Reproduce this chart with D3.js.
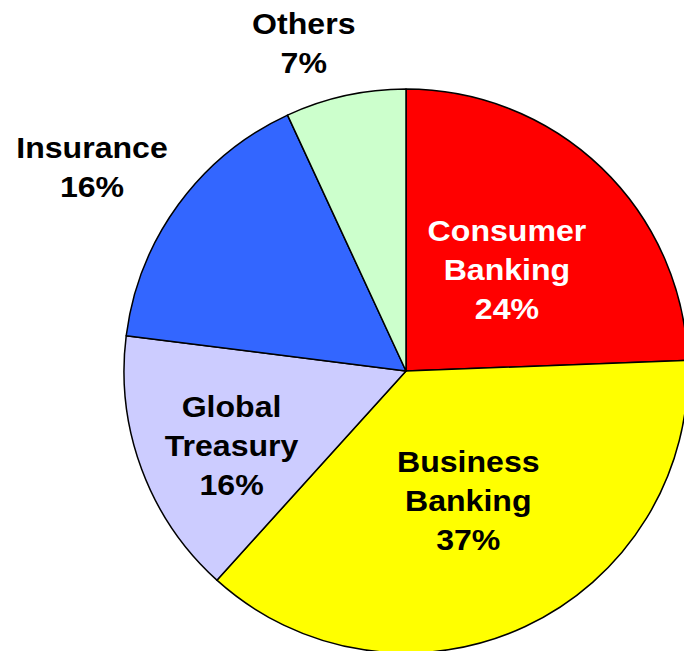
<!DOCTYPE html>
<html>
<head>
<meta charset="utf-8">
<script src="https://cdn.jsdelivr.net/npm/d3@7/dist/d3.min.js"></script>
<style>
  html, body { margin: 0; padding: 0; background: #fff; overflow: hidden; }
  svg { display: block; }
</style>
</head>
<body>
<script>
var segments = ["Consumer Banking", "Business Banking", "Global Treasury", "Insurance", "Others"];
var shares = [24.4, 37.3, 15.3, 16.1, 6.9];
var labelLines = [["Consumer", "Banking", "24%"], ["Business", "Banking", "37%"],
                  ["Global", "Treasury", "16%"], ["Insurance", "16%"], ["Others", "7%"]];

// look
var fills = ["#ff0000", "#ffff00", "#ccccff", "#3366ff", "#ccffcc"];
var textColors = ["#ffffff", "#000000", "#000000", "#000000", "#000000"];
var labelRadius = [136, 153, 194, 369, 334];
var labelShift = [4, 1, -5.6, -4.5, -5.4]; // degrees off the slice middle

var w = 684, h = 651;
var cx = 406, cy = 371, r = 282;
var lineH = 39, fontSize = 30, stretch = 1.07;

var svg = d3.select("body").append("svg")
  .attr("width", w)
  .attr("height", h);

var g = svg.append("g").attr("transform", "translate(" + cx + "," + cy + ")");

var pie = d3.pie().sort(null).value(function(d){ return d; });
var arcs = pie(shares);
var arc = d3.arc().innerRadius(0).outerRadius(r);

g.selectAll("path.slice")
  .data(arcs)
  .enter().append("path")
  .attr("class", "slice")
  .attr("d", arc)
  .attr("fill", function(d, i){ return fills[i]; })
  .attr("stroke", "#000")
  .attr("stroke-width", 1.5)
  .attr("stroke-linejoin", "round");

// labels
var lbl = g.selectAll("text.lbl")
  .data(arcs)
  .enter().append("text")
  .attr("class", "lbl")
  .attr("text-anchor", "middle")
  .attr("font-family", "Liberation Sans, Arial, sans-serif")
  .attr("font-weight", "bold")
  .attr("font-size", fontSize)
  .attr("fill", function(d, i){ return textColors[i]; })
  .attr("transform", function(d, i){
    var mid = (d.startAngle + d.endAngle) / 2 + labelShift[i] * Math.PI / 180;
    var p = d3.pointRadial(mid, labelRadius[i]);
    return "translate(" + p[0] + "," + p[1] + ") scale(" + stretch + ",1)";
  });

lbl.each(function(d, i){
  var lines = labelLines[i];
  var t = d3.select(this);
  var y0 = -(lines.length - 1) * lineH / 2;
  lines.forEach(function(s, k){
    t.append("tspan").attr("x", 0).attr("y", y0 + k * lineH).text(s);
  });
});
</script>
</body>
</html>
